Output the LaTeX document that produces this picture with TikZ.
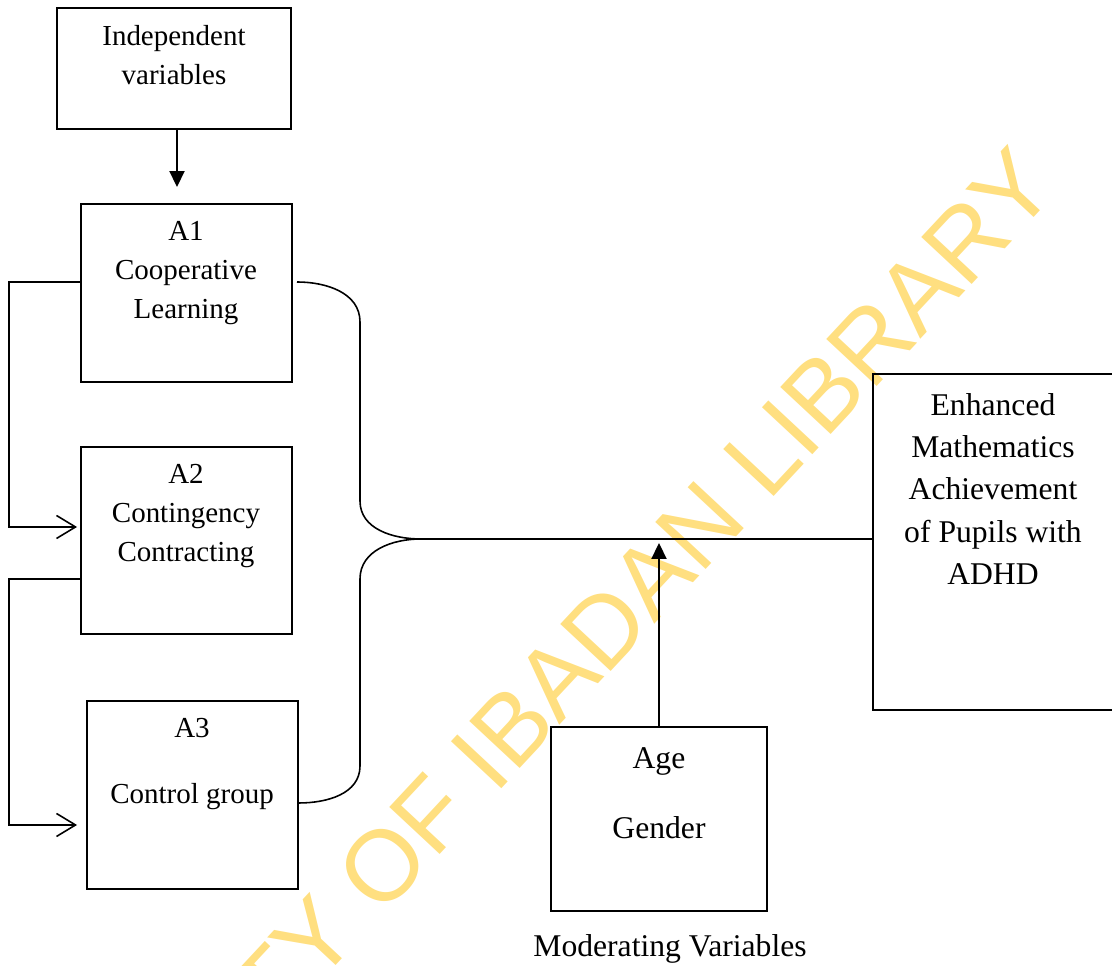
\documentclass[tikz,border=0pt]{standalone}
\usepackage{fontspec}
\setmainfont{Liberation Serif}
\newfontfamily\wmfont{Liberation Sans}
\usetikzlibrary{arrows.meta, positioning}
\definecolor{wmyellow}{HTML}{FFDF80}

\tikzset{
  box/.style={draw, line width=1.1pt, inner sep=0pt},
  txt/.style={align=center, inner sep=0pt, font=\fontsize{16.5}{22}\selectfont},
  bigtxt/.style={align=center, inner sep=0pt, font=\fontsize{18}{24}\selectfont},
  link/.style={line width=0.9pt},
  solid arrow/.style={line width=1.2pt, -{Triangle[length=0.32cm,width=0.3cm]}},
  open arrow/.style={line width=0.9pt, -{Straight Barb[length=0.38cm,width=0.46cm]}},
  wm/.style={text=wmyellow, rotate=47, inner sep=0pt, font=\wmfont\fontsize{57}{57}\selectfont}
}

\begin{document}
\begin{tikzpicture}
\useasboundingbox (0,0) rectangle (22.24,19.32);
\clip (0,0) rectangle (22.24,19.32);

% watermark behind everything
\node[wm] (wmark) at (9.62,4.12) {UNIVERSITY OF IBADAN LIBRARY};

% boxes
\node[box, minimum width=4.68cm, minimum height=2.42cm] (indep) at (3.48,17.95) {};
\node[box, minimum width=4.22cm, minimum height=3.56cm] (a1) at (3.73,13.46) {};
\node[box, minimum width=4.22cm, minimum height=3.74cm] (a2) at (3.73,8.51) {};
\node[box, minimum width=4.22cm, minimum height=3.76cm] (a3) at (3.85,3.42) {};
\node[box, minimum width=5.34cm, minimum height=6.72cm] (enh) at (20.13,8.48) {};
\node[box, minimum width=4.32cm, minimum height=3.68cm] (age) at (13.18,2.94) {};

% texts
\node[txt] (indeptxt) at (3.48,18.22) {Independent\\variables};
\node[txt] (a1txt) at (3.72,13.86) {A1\\Cooperative\\Learning};
\node[txt] (a2txt) at (3.72,9.0) {A2\\Contingency\\Contracting};
\node[txt] (a3txt) at (3.84,4.04) {A3\\[0.55cm]Control group};
\node[bigtxt] (enhtxt) at (19.86,9.54) {Enhanced\\Mathematics\\Achievement\\of Pupils with\\ADHD};
\node[bigtxt] (agetxt) at (13.18,3.46) {Age\\[0.55cm]Gender};
\node[bigtxt] (modtxt) at (13.4,0.34) {Moderating Variables};

% arrows
\draw[solid arrow, shorten >=0.32cm] ([xshift=0.06cm]indep.south) -- ([xshift=0.06cm]indep.south |- a1.north);
\draw[open arrow, shorten >=0.06cm] (a1.west |- 0,13.68) -| (0.18,8.78) -- (a2.west |- 0,8.78);
\draw[open arrow, shorten >=0.18cm] (a2.west |- 0,7.74) -| (0.18,2.82) -- (a3.west |- 0,2.82);

% brace joining the three groups
\coordinate (tip) at (8.42,8.54);
\draw[link] (5.94,13.68) to[out=0,in=90] (7.2,12.88) -- (7.2,9.30)
  to[out=-90,in=180] (tip) to[out=180,in=90] (7.2,7.74) -- (7.2,4.0)
  to[out=-90,in=0] (a3.east |- 0,3.26);
\draw[link] (tip) -- (tip -| enh.west);

\draw[solid arrow, shorten >=0.08cm] (age.north) -- (age.north |- tip);
\end{tikzpicture}
\end{document}
